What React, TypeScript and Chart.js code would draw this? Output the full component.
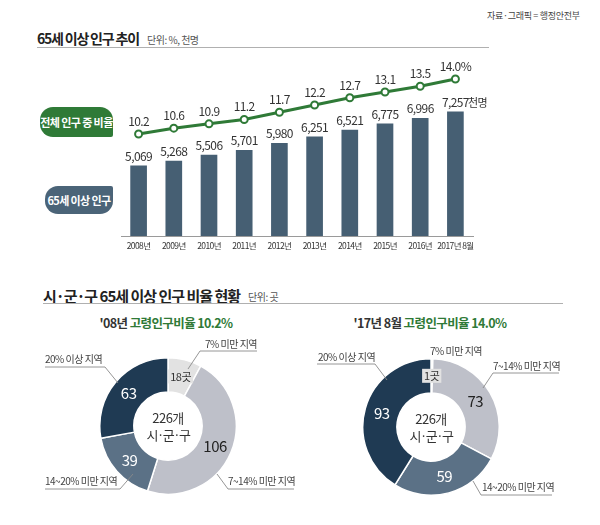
import React, { useEffect, useRef } from "react";
import Chart from "chart.js/auto";

// ---- data ----
const years = ["2008년", "2009년", "2010년", "2011년", "2012년", "2013년", "2014년", "2015년", "2016년", "2017년 8월"];
const population = [5069, 5268, 5506, 5701, 5980, 6251, 6521, 6775, 6996, 7257];
const ratio = [10.2, 10.6, 10.9, 11.2, 11.7, 12.2, 12.7, 13.1, 13.5, 14.0];
const regionLabels = ["7% 미만 지역", "7~14% 미만 지역", "14~20% 미만 지역", "20% 이상 지역"];
const regions2008 = [18, 106, 39, 63];
const regions2017 = [1, 73, 59, 93];

const KR = "'Noto Sans CJK KR', 'Noto Sans', sans-serif";
const GREEN = "#2f7a37";
const BAR = "#465f73";
const SLICE_COLORS = ["#e2e2e2", "#bec0c9", "#5b7186", "#1f3a53"];
const SLICE_TEXT = ["#333", "#222", "#fff", "#fff"];

const fmt = (v: number) => v.toLocaleString("en-US");

const tightText = {
  id: "tightText",
  beforeDraw(chart: any) {
    (chart.ctx as any).letterSpacing = "-0.6px";
  },
};

const comboLabels = {
  id: "comboLabels",
  afterDatasetsDraw(chart: any) {
    const ctx = chart.ctx;
    ctx.save();
    ctx.fillStyle = "#333";
    ctx.textBaseline = "alphabetic";
    (ctx as any).letterSpacing = "-0.6px";
    chart.data.datasets.forEach((ds: any, di: number) => {
      const meta = chart.getDatasetMeta(di);
      meta.data.forEach((el: any, i: number) => {
        const v = ds.data[i];
        if (ds.type === "bar") {
          ctx.font = `12px ${KR}`;
          const t = fmt(v);
          ctx.textAlign = "center";
          ctx.fillText(t, el.x, el.y - 5);
          if (i === ds.data.length - 1) {
            const w = ctx.measureText(t).width;
            ctx.textAlign = "left";
            ctx.font = `11px ${KR}`;
            ctx.fillText("천명", el.x + w / 2 - 1, el.y - 5);
          }
        } else {
          ctx.font = `12px ${KR}`;
          ctx.textAlign = "center";
          const t = v.toFixed(1) + (i === ds.data.length - 1 ? "%" : "");
          ctx.fillText(t, el.x, el.y - 8);
        }
      });
    });
    ctx.restore();
  },
};

const donutLabels = {
  id: "donutLabels",
  afterDatasetsDraw(chart: any) {
    const ctx = chart.ctx;
    const ds = chart.data.datasets[0];
    const meta = chart.getDatasetMeta(0);
    ctx.save();
    ctx.textAlign = "center";
    ctx.textBaseline = "middle";
    (ctx as any).letterSpacing = "-0.5px";
    meta.data.forEach((arc: any, i: number) => {
      const p = arc.tooltipPosition();
      const v = ds.data[i];
      if (i === 0) {
        ctx.font = `11px ${KR}`;
        const t = v + "곳";
        const w = ctx.measureText(t).width;
        ctx.fillStyle = SLICE_COLORS[0];
        ctx.fillRect(p.x - w / 2 - 2, p.y - 7, w + 4, 14);
        ctx.fillStyle = SLICE_TEXT[i];
        ctx.fillText(t, p.x, p.y);
      } else {
        ctx.fillStyle = SLICE_TEXT[i];
        ctx.font = `15px ${KR}`;
        ctx.fillText(String(v), p.x, p.y);
      }
    });
    const c = meta.data[0];
    ctx.fillStyle = "#333";
    ctx.font = `13px ${KR}`;
    ctx.fillText("226개", c.x, c.y - 8);
    (ctx as any).letterSpacing = "-1.5px";
    ctx.fillText("시·군·구", c.x, c.y + 9);
    ctx.restore();
  },
};

function ComboChart() {
  const ref = useRef<HTMLCanvasElement>(null);
  useEffect(() => {
    const chart = new Chart(ref.current!, {
      data: {
        labels: years,
        datasets: [
          {
            type: "line",
            data: ratio,
            yAxisID: "y1",
            borderColor: GREEN,
            borderWidth: 3,
            pointRadius: 3.5,
            pointBorderWidth: 2,
            pointBackgroundColor: "#fff",
            pointBorderColor: GREEN,
            tension: 0,
            order: 0,
          } as any,
          {
            type: "bar",
            data: population,
            yAxisID: "y",
            backgroundColor: BAR,
            barThickness: 16,
            order: 1,
          } as any,
        ],
      },
      options: {
        responsive: false,
        animation: false,
        devicePixelRatio: 1,
        layout: { padding: { top: 10, right: 24, left: 4, bottom: 0 } },
        plugins: { legend: { display: false }, tooltip: { enabled: false } },
        scales: {
          x: {
            grid: { display: false, drawTicks: false },
            border: { color: "#9a9a9a", width: 1 },
            ticks: {
              color: "#333",
              font: { size: 8.5, family: KR },
              padding: 5,
              maxRotation: 0,
              autoSkip: false,
            },
            afterFit: (s: any) => {
              s.height = 24;
            },
          } as any,
          y: { display: false, min: 2230, max: 9360 },
          y1: { display: false, min: 3.15, max: 15.31 },
        },
      },
      plugins: [tightText, comboLabels],
    });
    return () => chart.destroy();
  }, []);
  return (
    <canvas
      ref={ref}
      width={382}
      height={210}
      style={{ position: "absolute", left: 115, top: 50, width: 382, height: 210 }}
    />
  );
}

function Donut({ values, left, top }: { values: number[]; left: number; top: number }) {
  const ref = useRef<HTMLCanvasElement>(null);
  useEffect(() => {
    const chart = new Chart(ref.current!, {
      type: "doughnut",
      data: {
        labels: regionLabels,
        datasets: [
          {
            data: values,
            backgroundColor: SLICE_COLORS,
            borderColor: "#fff",
            borderWidth: 1.5,
          },
        ],
      },
      options: {
        responsive: false,
        animation: false,
        devicePixelRatio: 1,
        cutout: "50%",
        layout: { padding: 0 },
        plugins: { legend: { display: false }, tooltip: { enabled: false } },
      },
      plugins: [donutLabels],
    });
    return () => chart.destroy();
  }, []);
  return (
    <canvas
      ref={ref}
      width={138}
      height={138}
      style={{ position: "absolute", left, top, width: 138, height: 138 }}
    />
  );
}

function T(props: {
  x: number;
  y: number;
  size: number;
  bold?: boolean;
  color?: string;
  center?: boolean;
  ls?: number;
  children: React.ReactNode;
}) {
  const { x, y, size, bold, color, center, ls, children } = props;
  return (
    <div
      style={{
        position: "absolute",
        left: x,
        top: y - size / 2,
        fontSize: size,
        lineHeight: 1,
        fontWeight: bold ? 700 : 400,
        color: color || "#333",
        fontFamily: KR,
        whiteSpace: "nowrap",
        letterSpacing: ls !== undefined ? ls : -0.5,
        transform: center ? "translateX(-50%)" : undefined,
      }}
    >
      {children}
    </div>
  );
}

const callouts: { text: string; x: number; y: number; anchor: "start" | "end"; line?: string }[] = [
  { text: "7% 미만 지역", x: 205, y: 348, anchor: "start", line: "188,369 200,351 257,351" },
  { text: "20% 이상 지역", x: 45, y: 363, anchor: "start", line: "45,367 105,367 118,383" },
  { text: "14~20% 미만 지역", x: 45, y: 485, anchor: "start", line: "45,489 120,489 133,474" },
  { text: "7~14% 미만 지역", x: 228, y: 485, anchor: "start", line: "217,474 228,489 294,489" },
  { text: "20% 이상 지역", x: 318, y: 361, anchor: "start", line: "317,364 375,364 387,380" },
  { text: "7% 미만 지역", x: 430, y: 355, anchor: "start" },
  { text: "7~14% 미만 지역", x: 493, y: 370, anchor: "start", line: "483,388 493,373 559,373" },
  { text: "14~20% 미만 지역", x: 482, y: 491, anchor: "start", line: "473,481 481,495 552,495" },
];

export default function App() {
  return (
    <div
      style={{
        position: "fixed",
        left: 0,
        top: 0,
        width: 600,
        height: 525,
        background: "#fff",
        overflow: "hidden",
        fontFamily: KR,
      }}
    >
      <T x={487} y={15} size={9} color="#444" ls={-0.3}>
        자료·그래픽 = 행정안전부
      </T>
      <T x={37} y={38} size={14} bold color="#222" ls={-1.2}>
        65세 이상 인구 추이
      </T>
      <T x={147} y={40} size={10} color="#555">
        단위: %, 천명
      </T>
      <div style={{ position: "absolute", left: 37, top: 47, width: 452, height: 1, background: "#b0b0b0" }} />

      <div
        style={{
          position: "absolute",
          left: 40,
          top: 107,
          width: 73,
          height: 30,
          borderRadius: "13px 13px 2px 13px",
          background: GREEN,
          color: "#fff",
          fontSize: 11,
          fontWeight: 700,
          fontFamily: KR,
          letterSpacing: -0.6,
          display: "flex",
          alignItems: "center",
          justifyContent: "center",
        }}
      >
        전체 인구 중 비율
      </div>
      <div
        style={{
          position: "absolute",
          left: 45,
          top: 186,
          width: 68,
          height: 28,
          borderRadius: "13px 2px 13px 13px",
          background: "#4b6478",
          color: "#fff",
          fontSize: 11,
          fontWeight: 700,
          fontFamily: KR,
          letterSpacing: -0.6,
          display: "flex",
          alignItems: "center",
          justifyContent: "center",
        }}
      >
        65세 이상 인구
      </div>

      <ComboChart />

      <T x={43} y={295} size={15} bold color="#222" ls={-1}>
        시·군·구 65세 이상 인구 비율 현황
      </T>
      <T x={248} y={297} size={10} color="#555">
        단위: 곳
      </T>
      <div style={{ position: "absolute", left: 43, top: 303, width: 520, height: 1, background: "#b0b0b0" }} />

      <T x={166} y={323} size={12.5} bold color="#333" center ls={-0.6}>
        '08년 <span style={{ color: GREEN }}>고령인구비율 10.2%</span>
      </T>
      <T x={430} y={323} size={12.5} bold color="#333" center ls={-0.6}>
        '17년 8월 <span style={{ color: GREEN }}>고령인구비율 14.0%</span>
      </T>

      <Donut values={regions2008} left={99} top={357} />
      <Donut values={regions2017} left={362} top={358} />

      <svg
        width={600}
        height={525}
        style={{ position: "absolute", left: 0, top: 0, pointerEvents: "none" }}
      >
        {callouts.map((c, i) => (
          <g key={i}>
            {c.line && <polyline points={c.line} fill="none" stroke="#8a8a8a" strokeWidth={0.9} />}
            <text
              x={c.x}
              y={c.y}
              textAnchor={c.anchor}
              fontSize={10}
              fill="#444"
              fontFamily={KR}
              letterSpacing={-0.5}
            >
              {c.text}
            </text>
          </g>
        ))}
      </svg>
    </div>
  );
}
